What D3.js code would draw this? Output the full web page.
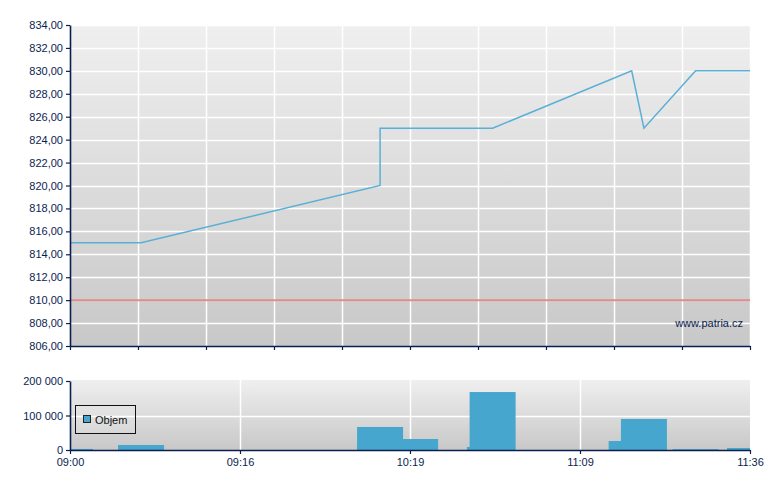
<!DOCTYPE html>
<html><head><meta charset="utf-8">
<script src="https://cdn.jsdelivr.net/npm/d3@7/dist/d3.min.js"></script>
<style>
html,body{margin:0;padding:0;background:#fff;}
svg{display:block;}
text{font-family:"Liberation Sans",Arial,sans-serif;}
</style></head>
<body>
<script>
// ---- data ----
const tradePos    = [0, 2.09, 9.12, 9.12, 10.15, 12.35, 12.43, 16.52, 16.88, 18.40, 20];
const tradePrice  = [815, 815, 820, 825, 825, 825, 825, 830, 825, 830, 830];
const tradeVolume = [3000, 14500, 20000, 66700, 31900, 8700, 168000, 26000, 90000, 2500, 5800];
const timeTickPos    = [0, 5, 10, 15, 20];
const timeTickLabels = ["09:00", "09:16", "10:19", "11:09", "11:36"];
const priceTicks  = [806, 808, 810, 812, 814, 816, 818, 820, 822, 824, 826, 828, 830, 832, 834];
const volumeTicks = [0, 100000, 200000];
const referencePrice = 810;
const watermark = "www.patria.cz";
const legendLabel = "Objem";

// ---- layout ----
const W = 780, H = 490;
const L = 70, R = 750;
const topT = 25, topB = 346;
const botT = 381, botB = 450;
const navy = "#0a1e50";
const lineColor = "#5aafd6";
const barColor = "#46a6ce";
const barWidth = 46;

const svg = d3.select("body").append("svg").attr("width", W).attr("height", H);
const defs = svg.append("defs");
const grad = defs.append("linearGradient").attr("id", "bg").attr("x1", 0).attr("y1", 0).attr("x2", 0).attr("y2", 1);
grad.append("stop").attr("offset", "0%").attr("stop-color", "#efefef");
grad.append("stop").attr("offset", "100%").attr("stop-color", "#c8c8c8");
defs.append("clipPath").attr("id", "clipTop").append("rect").attr("x", L).attr("y", topT).attr("width", R - L).attr("height", topB - topT);
defs.append("clipPath").attr("id", "clipBot").append("rect").attr("x", L).attr("y", botT - 1).attr("width", R - L).attr("height", botB - botT + 1);

const x = d3.scaleLinear().domain([0, 20]).range([L, R]);
const yP = d3.scaleLinear().domain([806, 834]).range([topB, topT]);
const yV = d3.scaleLinear().domain([0, 200000]).range([botB, botT]);

const priceFmt = d => d3.format(".2f")(d).replace(".", ",");
const volFmt = d => d3.format(",")(d).replace(/,/g, " ");

// ---- top chart ----
svg.append("rect").attr("x", L).attr("y", topT).attr("width", R - L).attr("height", topB - topT).attr("fill", "url(#bg)");
const gTop = svg.append("g");
gTop.selectAll("line.hg").data(priceTicks.slice(1)).join("line")
  .attr("x1", L).attr("x2", R).attr("y1", d => Math.round(yP(d)) + 0.5).attr("y2", d => Math.round(yP(d)) + 0.5)
  .attr("stroke", "#fff").attr("stroke-width", 1.5);
gTop.selectAll("line.vg").data(d3.range(2, 21, 2)).join("line")
  .attr("y1", topT).attr("y2", topB).attr("x1", d => Math.round(x(d)) + 0.5).attr("x2", d => Math.round(x(d)) + 0.5)
  .attr("stroke", "#fff").attr("stroke-width", 1.5);

const plotTop = svg.append("g").attr("clip-path", "url(#clipTop)");
plotTop.append("line").attr("x1", L).attr("x2", R)
  .attr("y1", yP(referencePrice)).attr("y2", yP(referencePrice))
  .attr("stroke", "#dd7777").attr("stroke-opacity", 0.85).attr("stroke-width", 2);
const trades = tradePos.map((p, i) => ({ p, price: tradePrice[i], vol: tradeVolume[i] }));
plotTop.append("path").datum(trades)
  .attr("d", d3.line().x(d => x(d.p)).y(d => yP(d.price)))
  .attr("fill", "none").attr("stroke", lineColor).attr("stroke-width", 1.5);

svg.append("text").attr("x", 743).attr("y", 327).attr("text-anchor", "end")
  .attr("font-size", 11).attr("fill", navy).text(watermark);

// axes top
const axLeftTop = svg.append("g").attr("transform", `translate(${L},0)`)
  .call(d3.axisLeft(yP).tickValues(priceTicks).tickFormat(priceFmt).tickSize(4).tickPadding(3).tickSizeOuter(0));
const axBotTop = svg.append("g").attr("transform", `translate(0,${topB})`)
  .call(d3.axisBottom(x).tickValues(d3.range(0, 21, 2)).tickFormat("").tickSize(4).tickSizeOuter(0));

// ---- bottom chart ----
svg.append("rect").attr("x", L).attr("y", botT - 1).attr("width", R - L).attr("height", botB - botT + 1).attr("fill", "url(#bg)");
svg.append("line").attr("x1", L).attr("x2", R).attr("y1", Math.round(yV(100000)) + 0.5).attr("y2", Math.round(yV(100000)) + 0.5)
  .attr("stroke", "#fff").attr("stroke-width", 1.5);
svg.selectAll("line.vgb").data(timeTickPos.slice(1, -1)).join("line")
  .attr("y1", botT - 1).attr("y2", botB).attr("x1", d => Math.round(x(d)) + 0.5).attr("x2", d => Math.round(x(d)) + 0.5)
  .attr("stroke", "#fff").attr("stroke-width", 1.5);

svg.append("g").attr("clip-path", "url(#clipBot)")
  .selectAll("rect").data(trades).join("rect")
  .attr("x", d => x(d.p) - barWidth / 2).attr("width", barWidth)
  .attr("y", d => yV(d.vol)).attr("height", d => botB - yV(d.vol))
  .attr("fill", barColor);

const axLeftBot = svg.append("g").attr("transform", `translate(${L},0)`)
  .call(d3.axisLeft(yV).tickValues(volumeTicks).tickFormat(volFmt).tickSize(4).tickPadding(3).tickSizeOuter(0));
const axBotBot = svg.append("g").attr("transform", `translate(0,${botB})`)
  .call(d3.axisBottom(x).tickValues(timeTickPos).tickFormat((d, i) => timeTickLabels[i]).tickSize(4).tickPadding(4).tickSizeOuter(0));

[axLeftTop, axBotTop, axLeftBot, axBotBot].forEach(g => {
  g.selectAll("path.domain").attr("stroke", navy).attr("stroke-width", 1.6);
  g.selectAll(".tick line").attr("stroke", navy).attr("stroke-width", 1.2);
  g.selectAll(".tick text").attr("fill", navy).attr("font-size", 11).attr("font-family", "'Liberation Sans', Arial, sans-serif");
});

// legend
const lg = svg.append("g");
lg.append("rect").attr("x", 75.5).attr("y", 405.5).attr("width", 60).attr("height", 28)
  .attr("fill", "#ffffff").attr("fill-opacity", 0.15).attr("stroke", "#111").attr("stroke-width", 1);
lg.append("rect").attr("x", 83.5).attr("y", 415.5).attr("width", 7).attr("height", 7)
  .attr("fill", barColor).attr("stroke", "#222").attr("stroke-width", 1);
lg.append("text").attr("x", 95).attr("y", 424).attr("font-size", 11).attr("fill", "#111").text(legendLabel);
</script>
</body></html>
